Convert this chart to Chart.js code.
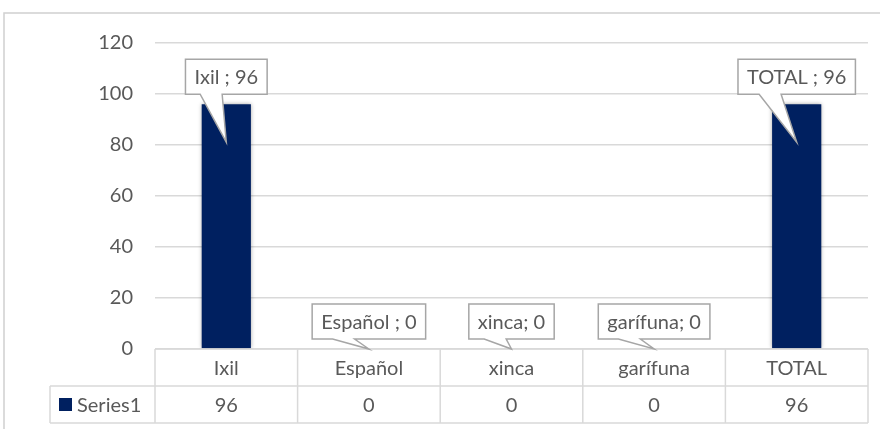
<!DOCTYPE html>
<html>
<head>
<meta charset="utf-8">
<script src="https://cdn.jsdelivr.net/npm/chart.js@4.4.1/dist/chart.umd.min.js"></script>
<style>
  html, body { margin: 0; padding: 0; background: #fff; }
  #wrap { position: relative; width: 880px; height: 429px; }
</style>
</head>
<body>
<div id="wrap"><canvas id="chart" width="880" height="429"></canvas></div>
<script>
// data
const categories = ['Ixil', 'Español', 'xinca', 'garífuna', 'TOTAL'];
const series1 = [96, 0, 0, 0, 96];
const seriesName = 'Series1';
const labelSeparators = [' ; ', ' ; ', '; ', '; ', ' ; '];
const yMin = 0, yMax = 120, yStep = 20;

const FONT = 'Lato, "Open Sans", sans-serif';
const TEXT = '#595959';
const GRID = '#d9d9d9';
const BAR = '#002060';

// callouts, data table and outer frame drawn by hand on top of chart.js scales
const excelLook = {
    id: 'excelLook',
    beforeDatasetsDraw(chart) {
        const ctx = chart.ctx;
        ctx.save();
        ctx.shadowColor = 'rgba(0,0,0,0.35)';
        ctx.shadowBlur = 4;
    },
    afterDatasetsDraw(chart) {
        chart.ctx.restore();
        drawTable(chart);
        drawCallouts(chart);
    },
    afterDraw(chart) {
        const ctx = chart.ctx;
        ctx.save();
        ctx.strokeStyle = '#d0d0d0';
        ctx.lineWidth = 1.5;
        ctx.strokeRect(4, 13, 1000, 1000);
        ctx.restore();
    }
};

function drawTable(chart) {
    const ctx = chart.ctx;
    const ca = chart.chartArea;
    const n = categories.length;
    const colW = (ca.right - ca.left) / n;
    const rowH = 37;
    const top = ca.bottom;
    const legendLeft = 50;
    const xs = chart.scales.x;

    ctx.save();
    ctx.strokeStyle = GRID;
    ctx.lineWidth = 1.5;
    ctx.beginPath();
    ctx.moveTo(ca.left, top); ctx.lineTo(ca.right, top);
    ctx.moveTo(legendLeft, top + rowH); ctx.lineTo(ca.right, top + rowH);
    ctx.moveTo(legendLeft, top + 2 * rowH); ctx.lineTo(ca.right, top + 2 * rowH);
    for (let i = 0; i <= n; i++) {
        const x = ca.left + i * colW;
        ctx.moveTo(x, top); ctx.lineTo(x, top + 2 * rowH);
    }
    ctx.moveTo(legendLeft, top + rowH); ctx.lineTo(legendLeft, top + 2 * rowH);
    ctx.stroke();

    ctx.fillStyle = TEXT;
    ctx.font = '20px ' + FONT;
    ctx.textAlign = 'center';
    ctx.textBaseline = 'middle';
    categories.forEach((c, i) => {
        const cx = xs.getPixelForValue(i);
        ctx.fillText(c, cx, top + rowH / 2 + 1);
        ctx.fillText(String(series1[i]), cx, top + rowH * 1.5 + 1);
    });

    // legend key
    ctx.fillStyle = BAR;
    ctx.fillRect(59, top + rowH + 12, 13, 13);
    ctx.fillStyle = TEXT;
    ctx.textAlign = 'left';
    ctx.fillText(seriesName, 77, top + rowH * 1.5 + 1);
    ctx.restore();
}

function drawCallouts(chart) {
    const ctx = chart.ctx;
    const meta = chart.getDatasetMeta(0);
    ctx.save();
    ctx.font = '20px ' + FONT;
    ctx.textAlign = 'center';
    ctx.textBaseline = 'middle';
    meta.data.forEach((bar, i) => {
        const text = categories[i] + labelSeparators[i] + series1[i];
        const w = ctx.measureText(text).width + 18;
        const h = 35;
        const bx = bar.x - w / 2;
        const by = bar.y - 10 - h;
        const tipX = bar.x;
        const tipY = Math.min(bar.y + 38, bar.base);
        const b1 = bx + w * 0.18;
        const b2 = b1 + 22;

        ctx.beginPath();
        ctx.moveTo(bx, by);
        ctx.lineTo(bx + w, by);
        ctx.lineTo(bx + w, by + h);
        ctx.lineTo(b2, by + h);
        ctx.lineTo(tipX, tipY);
        ctx.lineTo(b1, by + h);
        ctx.lineTo(bx, by + h);
        ctx.closePath();
        ctx.fillStyle = '#fff';
        ctx.fill();
        ctx.strokeStyle = '#a6a6a6';
        ctx.lineWidth = 1.5;
        ctx.stroke();

        ctx.fillStyle = TEXT;
        ctx.fillText(text, bx + w / 2, by + h / 2 + 1);
    });
    ctx.restore();
}

new Chart(document.getElementById('chart'), {
    type: 'bar',
    data: {
        labels: categories,
        datasets: [{
            label: seriesName,
            data: series1,
            backgroundColor: BAR,
            borderWidth: 0,
            categoryPercentage: 1,
            barPercentage: 0.345
        }]
    },
    options: {
        responsive: false,
        animation: false,
        layout: { padding: { top: 43, right: 12, bottom: 80, left: 0 } },
        plugins: {
            legend: { display: false },
            tooltip: { enabled: false }
        },
        scales: {
            x: { display: false },
            y: {
                min: yMin,
                max: yMax,
                afterFit: (scale) => { scale.width = 155; },
                ticks: {
                    stepSize: yStep,
                    padding: 22,
                    color: TEXT,
                    font: { family: FONT, size: 20 }
                },
                grid: { color: GRID, lineWidth: 1.5, drawTicks: false },
                border: { display: false }
            }
        }
    },
    plugins: [excelLook]
});
</script>
</body>
</html>
